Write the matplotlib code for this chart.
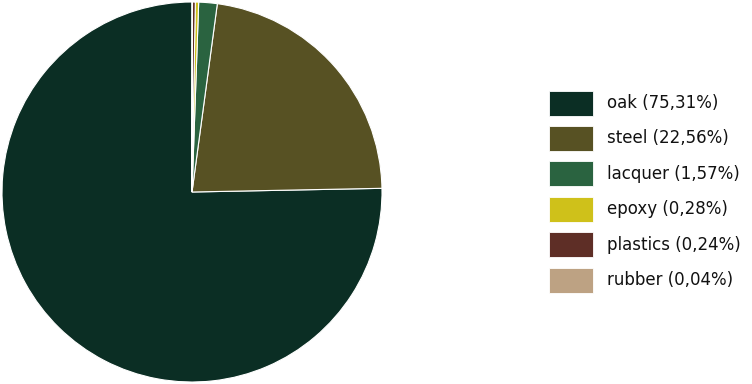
import matplotlib.pyplot as plt
from matplotlib.patches import Rectangle

materials = ["oak", "steel", "lacquer", "epoxy", "plastics", "rubber"]
shares = [75.31, 22.56, 1.57, 0.28, 0.24, 0.04]
colors = ["#0b2e24", "#575123", "#2a6340", "#cfc11a", "#5e2e26", "#bda283"]

W, H = 752, 384
fig = plt.figure(figsize=(W / 100, H / 100), dpi=100)
plt.rcParams['font.family'] = ['DejaVu Sans']

# pie centred at (192, 192), radius ~190 px
ax = fig.add_axes([2 / W, 2 / H, 380 / W, 380 / H])
ax.pie(shares, colors=colors, startangle=90, counterclock=True,
       wedgeprops=dict(edgecolor="white", linewidth=0.8))
ax.set_xlim(-1, 1)
ax.set_ylim(-1, 1)
ax.set_aspect('equal')

# legend drawn by hand: swatch 44x24 px, rows every ~35.4 px
labels = [f"{m} ({s:.2f}%)".replace(".", ",") for m, s in zip(materials, shares)]
for i, (lab, c) in enumerate(zip(labels, colors)):
    yc = 103 + i * 35.4
    fig.patches.append(Rectangle((549 / W, 1 - (yc + 12.5) / H), 44 / W, 25 / H,
                                 transform=fig.transFigure, facecolor=c,
                                 edgecolor="white", linewidth=0.6))
    fig.text(607 / W, 1 - yc / H, lab, fontsize=12, color="#111111",
             ha="left", va="center")

fig.savefig("out.png", dpi=100)
